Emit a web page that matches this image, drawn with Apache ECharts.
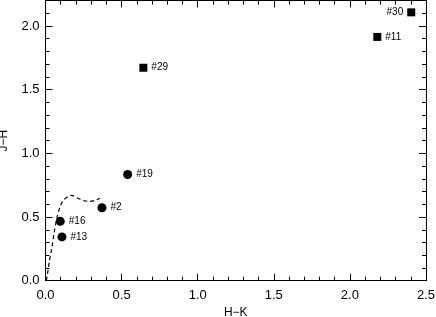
<!DOCTYPE html>
<html><head><meta charset="utf-8">
<script src="https://cdn.jsdelivr.net/npm/echarts@6/dist/echarts.min.js"></script>
<style>html,body{margin:0;padding:0;background:#fff}#c{width:436px;height:317px}</style>
</head><body><div id="c"></div>
<script>
const circleNames = ['#19', '#2', '#16', '#13'];
const circleX = [0.540, 0.371, 0.097, 0.108];
const circleY = [0.834, 0.573, 0.466, 0.344];
const squareNames = ['#29', '#30', '#11'];
const squareX = [0.643, 2.403, 2.180];
const squareY = [1.672, 2.107, 1.914];
const squareLabelPos = ['right', 'left', 'right'];
const curveX = [0.005, 0.012, 0.025, 0.041, 0.056, 0.074, 0.095, 0.117, 0.150, 0.172, 0.205, 0.248, 0.292, 0.325, 0.358];
const curveY = [0.0, 0.045, 0.148, 0.253, 0.370, 0.488, 0.578, 0.630, 0.662, 0.670, 0.652, 0.630, 0.623, 0.630, 0.648];
const xMajor = [0, 0.5, 1.0, 1.5, 2.0, 2.5];
const yMajor = [0, 0.5, 1.0, 1.5, 2.0];
const yMinor = [0.1,0.2,0.3,0.4,0.6,0.7,0.8,0.9,1.1,1.2,1.3,1.4,1.6,1.7,1.8,1.9,2.1];

const font = 'Liberation Sans';
const black = '#000';
function xAx(pos, labels) {
  return {
    type: 'value', position: pos, min: 0, max: 2.5, interval: 0.5,
    axisLine: {show: true, onZero: false, lineStyle: {color: black, width: 1}},
    axisTick: {show: true, inside: true, length: 7, lineStyle: {color: black}},
    minorTick: {show: true, splitNumber: 5, length: 4, lineStyle: {color: black}},
    splitLine: {show: false}, minorSplitLine: {show: false},
    axisLabel: {show: labels, color: black, fontFamily: font, fontSize: 13, margin: 8,
      formatter: v => v.toFixed(1)},
    name: labels ? 'H\u2212K' : '', nameLocation: 'middle', nameGap: 22,
    nameTextStyle: {color: black, fontFamily: font, fontSize: 12}
  };
}
function yAx(pos, major, labels) {
  return {
    type: 'value', position: pos, min: 0, max: 2.2,
    axisLine: {show: major, onZero: false, lineStyle: {color: black, width: 1}},
    axisTick: {show: true, inside: true, length: major ? 7 : 4, customValues: major ? yMajor : yMinor, lineStyle: {color: black}},
    splitLine: {show: false},
    axisLabel: {show: labels, customValues: yMajor, color: black, fontFamily: font, fontSize: 13, margin: 6,
      formatter: v => v.toFixed(1)},
    name: labels ? 'J\u2212H' : '', nameLocation: 'middle', nameGap: 36, nameRotate: 90,
    nameTextStyle: {color: black, fontFamily: font, fontSize: 12}
  };
}
const chart = echarts.init(document.getElementById('c'), null, {renderer: 'canvas'});
chart.setOption({
  animation: false,
  backgroundColor: '#fff',
  grid: {left: 45.5, right: 10, top: 0.5, bottom: 36.3, containLabel: false, outerBoundsMode: 'none'},
  xAxis: [xAx('bottom', true), xAx('top', false)],
  yAxis: [yAx('left', true, true), yAx('left', false, false), yAx('right', true, false), yAx('right', false, false)],
  series: [
    {type: 'line', xAxisIndex: 0, yAxisIndex: 0, data: curveX.map((x, i) => [x, curveY[i]]),
      smooth: 0.3, showSymbol: false, symbol: 'none',
      lineStyle: {color: black, width: 1.2, type: [4, 3]}},
    {type: 'scatter', xAxisIndex: 0, yAxisIndex: 0, symbol: 'circle', symbolSize: 9,
      itemStyle: {color: black, opacity: 1},
      data: circleX.map((x, i) => ({value: [x, circleY[i]], name: circleNames[i]})),
      label: {show: true, position: 'right', distance: 4, formatter: p => p.name, color: black, fontFamily: font, fontSize: 10}},
    {type: 'scatter', xAxisIndex: 0, yAxisIndex: 0, symbol: 'rect', symbolSize: 8,
      itemStyle: {color: black, opacity: 1},
      data: squareX.map((x, i) => ({value: [x, squareY[i]], name: squareNames[i],
        label: {position: squareLabelPos[i]}})),
      label: {show: true, position: 'right', distance: 4, formatter: p => p.name, color: black, fontFamily: font, fontSize: 10}}
  ]
});
</script></body></html>
